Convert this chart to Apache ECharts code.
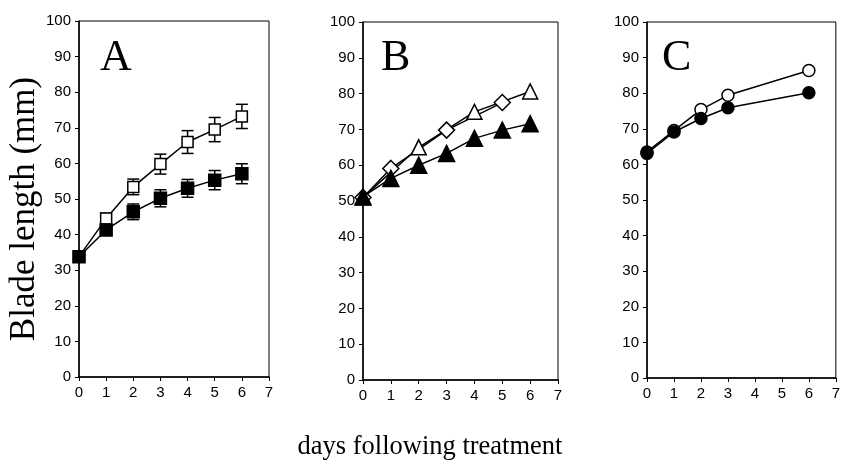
<!DOCTYPE html>
<html>
<head>
<meta charset="utf-8">
<script src="https://cdn.jsdelivr.net/npm/echarts@6/dist/echarts.min.js"></script>
<style>
html,body{margin:0;padding:0;background:#fff;}
#c{width:843px;height:466px;}
</style>
</head>
<body>
<div id="c"></div>
<script>
// ---- data ----
const days = [0, 1, 2, 3, 4, 5, 6];
const xTicks = [0, 1, 2, 3, 4, 5, 6, 7];
const yTicks = [0, 10, 20, 30, 40, 50, 60, 70, 80, 90, 100];

const aOpen = [33.8, 44.5, 53.4, 59.8, 66.0, 69.5, 73.2];
const aOpenErr = [0, 1.5, 2.2, 2.8, 3.2, 3.4, 3.4];
const aFilled = [33.8, 41.3, 46.4, 50.2, 53.0, 55.3, 57.1];
const aFilledErr = [0, 1.5, 2.2, 2.4, 2.5, 2.7, 2.8];

const bDiamondDays = [0, 1, 3, 5];
const bDiamond = [51.0, 59.1, 69.8, 77.5];
const bOpenTriDays = [0, 2, 4, 6];
const bOpenTri = [51.0, 65.0, 74.9, 80.6];
const bFilledTri = [51.2, 56.3, 60.0, 63.3, 67.5, 69.8, 71.6];

const cDays = [0, 1, 2, 3, 6];
const cOpen = [63.5, 69.5, 75.4, 79.4, 86.4];
const cFilled = [63.1, 69.1, 72.9, 75.9, 80.1];

const panelLetters = ['A', 'B', 'C'];
const yTitle = 'Blade length (mm)';
const xTitle = 'days following treatment';

// ---- helpers ----
const zip = (xs, ys) => xs.map((x, i) => [x, ys[i]]);
const errData = (xs, ys, es) => xs.map((x, i) => [x, ys[i] - es[i], ys[i] + es[i]]).filter((d, i) => es[i] > 0);

const grids = [
  {left: 79, top: 21, width: 190, height: 356},
  {left: 363, top: 22, width: 195, height: 358},
  {left: 647, top: 22, width: 193, height: 356}
];

const tickFont = {fontFamily: 'Liberation Sans, Arial, sans-serif', fontSize: 15, color: '#000'};

const xAxes = grids.map((g, i) => ({
  gridIndex: i, type: 'value', min: xTicks[0], max: xTicks[xTicks.length - 1], interval: 1,
  axisLine: {show: true, onZero: false, lineStyle: {color: '#000', width: 1.5}},
  axisTick: {show: true, length: 4, lineStyle: {color: '#000', width: 1}},
  axisLabel: Object.assign({margin: 8}, tickFont),
  splitLine: {show: false}
}));
const yAxes = grids.map((g, i) => ({
  gridIndex: i, type: 'value', min: yTicks[0], max: yTicks[yTicks.length - 1], interval: 10,
  axisLine: {show: true, lineStyle: {color: '#000', width: 1.5}},
  axisTick: {show: true, length: 4, lineStyle: {color: '#000', width: 1}},
  axisLabel: Object.assign({margin: 8}, tickFont),
  splitLine: {show: false}
}));

function lineSeries(idx, data, symbol, size, filled, z) {
  return {
    type: 'line', xAxisIndex: idx, yAxisIndex: idx, data: data,
    symbol: symbol, symbolSize: size, showSymbol: true,
    lineStyle: {color: '#000', width: 1.5},
    itemStyle: {color: filled ? '#000' : '#fff', borderColor: '#000', borderWidth: 1.5},
    z: z, animation: false, silent: true
  };
}
function errSeries(idx, data, z) {
  return {
    type: 'custom', xAxisIndex: idx, yAxisIndex: idx, data: data, z: z, animation: false, silent: true,
    renderItem: function (params, api) {
      const x = api.value(0);
      const lo = api.coord([x, api.value(1)]);
      const hi = api.coord([x, api.value(2)]);
      const hw = 6;
      const st = {stroke: '#000', lineWidth: 1.5};
      return {type: 'group', children: [
        {type: 'line', shape: {x1: lo[0], y1: lo[1], x2: hi[0], y2: hi[1]}, style: st},
        {type: 'line', shape: {x1: lo[0] - hw, y1: lo[1], x2: lo[0] + hw, y2: lo[1]}, style: st},
        {type: 'line', shape: {x1: hi[0] - hw, y1: hi[1], x2: hi[0] + hw, y2: hi[1]}, style: st}
      ]};
    }
  };
}

const series = [
  errSeries(0, errData(days, aOpen, aOpenErr), 2),
  errSeries(0, errData(days, aFilled, aFilledErr), 2),
  lineSeries(0, zip(days, aOpen), 'rect', 11, false, 3),
  lineSeries(0, zip(days, aFilled), 'rect', 12, true, 4),
  lineSeries(1, zip(bDiamondDays, bDiamond), 'diamond', 16, false, 3),
  lineSeries(1, zip(bOpenTriDays, bOpenTri), 'triangle', 15, false, 3),
  lineSeries(1, zip(days, bFilledTri), 'triangle', 16, true, 4),
  lineSeries(2, zip(cDays, cOpen), 'circle', 12, false, 3),
  lineSeries(2, zip(cDays, cFilled), 'circle', 12, true, 4)
];

const letterPos = [[100, 36], [381, 36], [662, 36]];
const graphics = panelLetters.map((t, i) => ({
  type: 'text', left: letterPos[i][0], top: letterPos[i][1], z: 10,
  style: {text: t, font: '44px "Liberation Serif", "Times New Roman", serif', fill: '#000'}
}));
graphics.push({
  type: 'text', x: 25, y: 209, rotation: Math.PI / 2, z: 10,
  style: {text: yTitle, font: '35px "Liberation Serif", "Times New Roman", serif', fill: '#000', align: 'center', verticalAlign: 'middle'}
});
graphics.push({
  type: 'text', x: 430, y: 447, z: 10,
  style: {text: xTitle, font: '26.5px "Liberation Serif", "Times New Roman", serif', fill: '#000', align: 'center', verticalAlign: 'middle'}
});

const chart = echarts.init(document.getElementById('c'), null, {renderer: 'canvas'});
chart.setOption({
  backgroundColor: '#fff',
  animation: false,
  grid: grids.map(g => Object.assign({show: true, borderColor: '#000', borderWidth: 1, backgroundColor: 'transparent'}, g)),
  xAxis: xAxes,
  yAxis: yAxes,
  series: series,
  graphic: graphics
});
</script>
</body>
</html>
